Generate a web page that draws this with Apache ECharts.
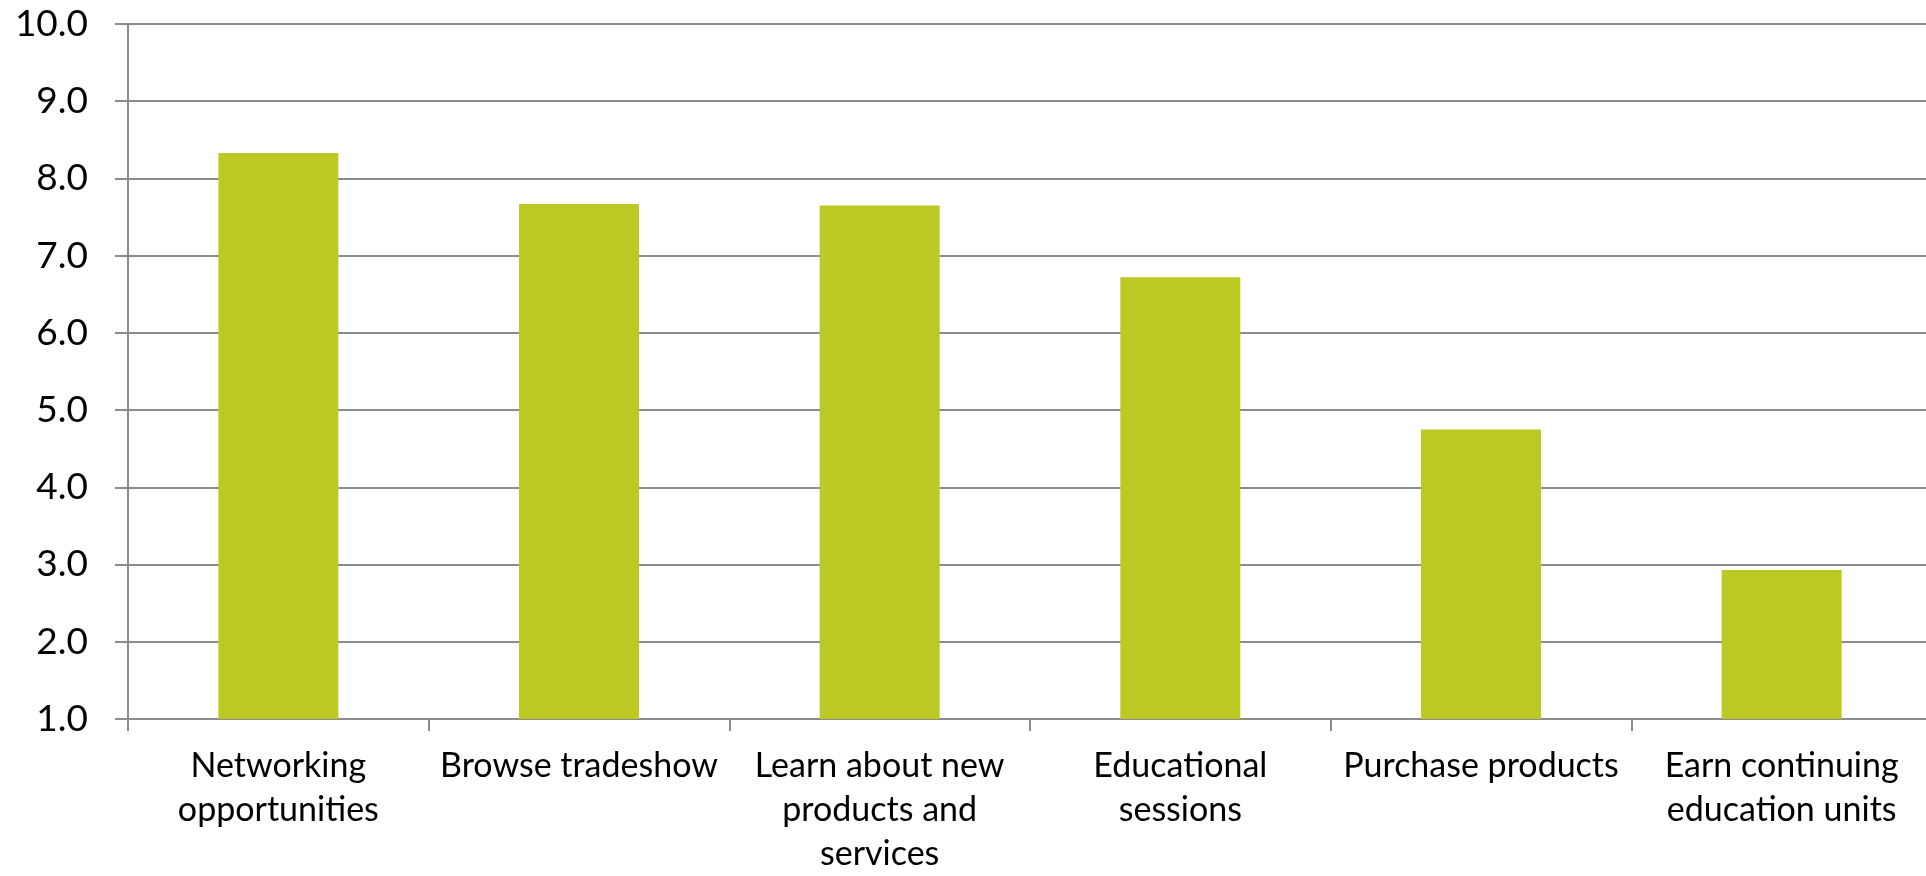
<!DOCTYPE html>
<html>
<head>
<meta charset="utf-8">
<script src="https://cdn.jsdelivr.net/npm/echarts@6/dist/echarts.min.js"></script>
<style>
  html, body { margin: 0; padding: 0; background: #ffffff; overflow: hidden; }
  /* the plot runs a few pixels past the right edge of the window */
  #chart { width: 1932px; height: 876px; }
</style>
</head>
<body>
<div id="chart"></div>
<script>
// Reasons for attending: average rating per activity
const categories = [
  'Networking\nopportunities',
  'Browse tradeshow',
  'Learn about new\nproducts and\nservices',
  'Educational\nsessions',
  'Purchase products',
  'Earn continuing\neducation units'
];
const ratings = [8.33, 7.67, 7.65, 6.72, 4.75, 2.93];

const yMin = 1;
const yMax = 10;
const yStep = 1;

const FONT = 'Lato, "Open Sans", sans-serif';
const GRID_GRAY = '#8c8c8c';

const chart = echarts.init(document.getElementById('chart'), null, { renderer: 'canvas' });

chart.setOption({
  animation: false,
  backgroundColor: '#ffffff',
  grid: { left: 128, right: 0, top: 24, bottom: 155, containLabel: false },
  xAxis: {
    type: 'category',
    data: categories,
    boundaryGap: true,
    axisLine: { show: true, lineStyle: { color: GRID_GRAY, width: 2 } },
    axisTick: { show: true, alignWithLabel: false, length: 12, lineStyle: { color: GRID_GRAY, width: 2 } },
    axisLabel: {
      interval: 0,
      margin: 25,
      color: '#000000',
      fontFamily: FONT,
      fontSize: 34,
      lineHeight: 44,
      align: 'center'
    },
    splitLine: { show: false }
  },
  yAxis: {
    type: 'value',
    min: yMin,
    max: yMax,
    interval: yStep,
    axisLine: { show: true, lineStyle: { color: GRID_GRAY, width: 2 } },
    axisTick: { show: true, inside: false, length: 13, lineStyle: { color: GRID_GRAY, width: 2 } },
    axisLabel: {
      margin: 40,
      color: '#000000',
      fontFamily: FONT,
      fontSize: 37,
      formatter: v => v.toFixed(1)
    },
    splitLine: { show: true, lineStyle: { color: GRID_GRAY, width: 2 } }
  },
  series: [{
    type: 'bar',
    data: ratings,
    barWidth: 120,
    itemStyle: { color: '#bcc924' },
    silent: true
  }]
});
</script>
</body>
</html>
